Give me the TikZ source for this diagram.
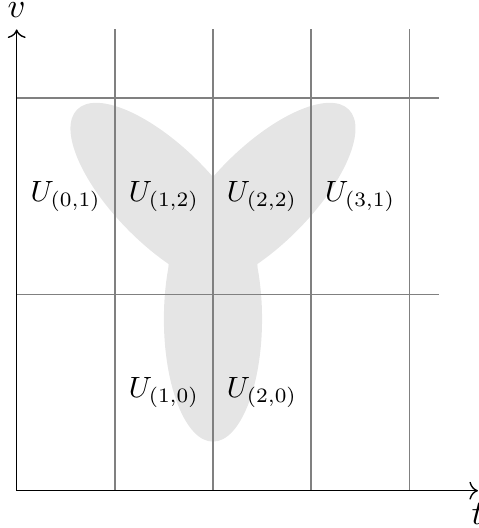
\documentclass[tikz,border=0pt]{standalone}
\usepackage{amsmath}
\usetikzlibrary{arrows.meta, positioning}

\begin{document}
\begin{tikzpicture}[
        patch/.style={fill=gray!20, draw=none},
        gridline/.style={draw=gray, line width=0.4pt},
        axis/.style={draw, ->},
        cell/.style={inner sep=2pt, scale=0.85}
    ]
        \useasboundingbox (-0.17,-0.38) rectangle (4.71,5.0);

        % shaded patches
        \fill[patch] (2,1.75) ellipse [x radius=0.5, y radius=1.25];
        \fill[patch] (1.5,3) ellipse [x radius=0.5, y radius=1.25, rotate=45];
        \fill[patch] (2.5,3) ellipse [x radius=0.5, y radius=1.25, rotate=-45];

        % grid
        \foreach \x in {1,...,4}
            \draw[gridline] (\x,0) -- (\x,4.7);
        \foreach \y in {2,4}
            \draw[gridline] (0,\y) -- (4.3,\y);

        % axes
        \coordinate (O)    at (0,0);
        \coordinate (tmax) at (4.7,0);
        \coordinate (vmax) at (0,4.7);
        \draw[axis] (O) -- (tmax) node[below] (tlab) {$t$};
        \draw[axis] (O) -- (vmax) node[above] (vlab) {$v$};

        % cells
        \node[cell] (u01) at (0.5,3) {$U_{(0,1)}$};
        \node[cell] (u12) at (1.5,3) {$U_{(1,2)}$};
        \node[cell] (u22) at (2.5,3) {$U_{(2,2)}$};
        \node[cell] (u31) at (3.5,3) {$U_{(3,1)}$};
        \node[cell] (u10) at (1.5,1) {$U_{(1,0)}$};
        \node[cell] (u20) at (2.5,1) {$U_{(2,0)}$};
    \end{tikzpicture}
\end{document}
